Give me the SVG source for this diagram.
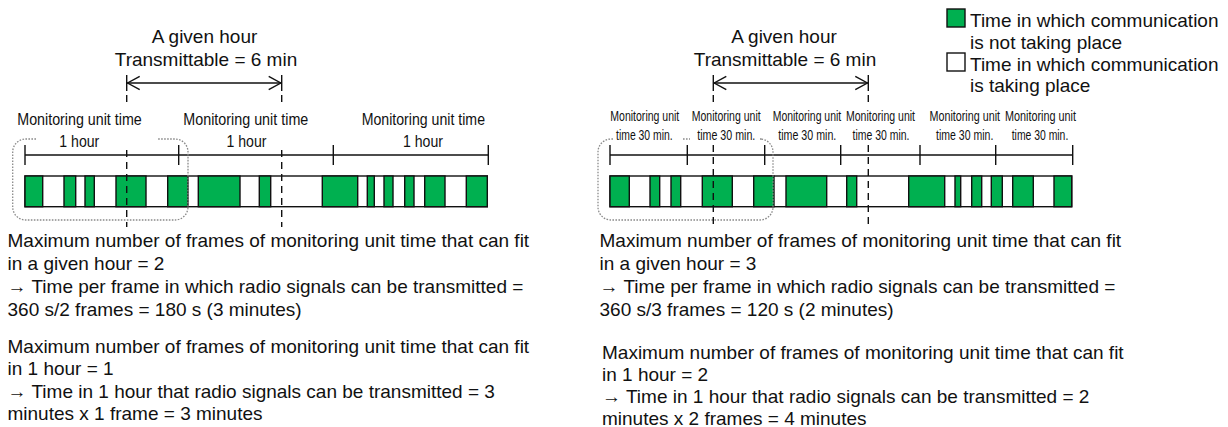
<svg xmlns="http://www.w3.org/2000/svg" width="1228" height="427" viewBox="0 0 1228 427">
<style>
.t{font-family:"Liberation Sans",Arial,sans-serif;font-size:19px;fill:#111}
.n{font-family:"Liberation Sans Narrow","Liberation Sans",Arial,sans-serif;fill:#111}
.n1{font-size:16.5px}
.n2{font-size:14px}
.ln{stroke:#111;stroke-width:1.4;fill:none}
.ds{stroke:#111;stroke-width:1.4;fill:none;stroke-dasharray:7 5}
.dot{stroke:#8a8a8a;stroke-width:1.3;fill:none;stroke-dasharray:1.6 1.4}
.g{fill:#00b050;stroke:#111;stroke-width:1.4}
.w{fill:#fff;stroke:#111;stroke-width:1.4}
</style>

<g id="legend">
<rect class="g" x="947" y="9" width="18" height="18"/>
<rect class="w" x="947" y="53" width="18" height="18"/>
<text class="t" x="970" y="26.5">Time in which communication</text>
<text class="t" x="970" y="48.5">is not taking place</text>
<text class="t" x="970" y="70.5">Time in which communication</text>
<text class="t" x="970" y="92">is taking place</text>
</g>

<!-- LEFT DIAGRAM -->
<g id="left-title">
<text class="t" x="204.5" y="43.3" text-anchor="middle">A given hour</text>
<text class="t" x="206" y="66" text-anchor="middle">Transmittable = 6 min</text>
</g>

<g id="left-labels">
<text class="n n1" x="17.3" y="125" textLength="124.4" lengthAdjust="spacingAndGlyphs">Monitoring unit time</text>
<text class="n n1" x="59.3" y="147" textLength="40" lengthAdjust="spacingAndGlyphs">1 hour</text>
<text class="n n1" x="183.3" y="125" textLength="125" lengthAdjust="spacingAndGlyphs">Monitoring unit time</text>
<text class="n n1" x="226.5" y="147" textLength="40" lengthAdjust="spacingAndGlyphs">1 hour</text>
<text class="n n1" x="361.7" y="125" textLength="123.3" lengthAdjust="spacingAndGlyphs">Monitoring unit time</text>
<text class="n n1" x="403" y="147" textLength="40" lengthAdjust="spacingAndGlyphs">1 hour</text>
</g>

<g id="left-timeline">
<line class="ln" x1="25" y1="155" x2="488.3" y2="155"/>
<line class="ln" x1="25" y1="145" x2="25" y2="165"/>
<line class="ln" x1="178.7" y1="145" x2="178.7" y2="165"/>
<line class="ln" x1="333.3" y1="145" x2="333.3" y2="165"/>
<line class="ln" x1="488.3" y1="145" x2="488.3" y2="165"/>
</g>

<g id="left-bar">
<rect class="w" x="25" y="176" width="462.3" height="30.7"/>
<rect class="g" x="25" y="176" width="17.7" height="30.7"/>
<rect class="g" x="64" y="176" width="11.7" height="30.7"/>
<rect class="g" x="85" y="176" width="9.3" height="30.7"/>
<rect class="g" x="116" y="176" width="30" height="30.7"/>
<rect class="g" x="167.7" y="176" width="20.3" height="30.7"/>
<rect class="g" x="198.3" y="176" width="41.7" height="30.7"/>
<rect class="g" x="259.3" y="176" width="11.4" height="30.7"/>
<rect class="g" x="322.3" y="176" width="35.4" height="30.7"/>
<rect class="g" x="367.3" y="176" width="7" height="30.7"/>
<rect class="g" x="384" y="176" width="9" height="30.7"/>
<rect class="g" x="404.7" y="176" width="9.3" height="30.7"/>
<rect class="g" x="424.7" y="176" width="20.3" height="30.7"/>
<rect class="g" x="466.3" y="176" width="21" height="30.7"/>
</g>

<g id="left-bracket">
<path class="dot" d="M36,139 H25.7 A13,13 0 0 0 12.7,152 V207 A13,13 0 0 0 25.7,220 H175 A13,13 0 0 0 188,207 V152 A13,13 0 0 0 175,139 H158"/>
</g>

<!-- RIGHT DIAGRAM -->
<g id="right-title">
<text class="t" x="784" y="43" text-anchor="middle">A given hour</text>
<text class="t" x="785" y="65.5" text-anchor="middle">Transmittable = 6 min</text>
</g>

<g id="right-labels">
<text class="n n2" x="610.3" y="120.7" textLength="69" lengthAdjust="spacingAndGlyphs">Monitoring unit</text>
<text class="n n2" x="616" y="140" textLength="56.7" lengthAdjust="spacingAndGlyphs">time 30 min.</text>
<text class="n n2" x="691.7" y="120.7" textLength="69" lengthAdjust="spacingAndGlyphs">Monitoring unit</text>
<text class="n n2" x="697.3" y="140" textLength="58" lengthAdjust="spacingAndGlyphs">time 30 min.</text>
<text class="n n2" x="772.7" y="120.7" textLength="68.5" lengthAdjust="spacingAndGlyphs">Monitoring unit</text>
<text class="n n2" x="778.3" y="140" textLength="58" lengthAdjust="spacingAndGlyphs">time 30 min.</text>
<text class="n n2" x="846" y="120.7" textLength="69" lengthAdjust="spacingAndGlyphs">Monitoring unit</text>
<text class="n n2" x="852.5" y="140" textLength="57" lengthAdjust="spacingAndGlyphs">time 30 min.</text>
<text class="n n2" x="929.5" y="120.7" textLength="70.5" lengthAdjust="spacingAndGlyphs">Monitoring unit</text>
<text class="n n2" x="936" y="140" textLength="57.3" lengthAdjust="spacingAndGlyphs">time 30 min.</text>
<text class="n n2" x="1005" y="120.7" textLength="71" lengthAdjust="spacingAndGlyphs">Monitoring unit</text>
<text class="n n2" x="1011.7" y="140" textLength="56.6" lengthAdjust="spacingAndGlyphs">time 30 min.</text>
</g>

<g id="right-timeline">
<line class="ln" x1="610" y1="155" x2="1072.7" y2="155"/>
<line class="ln" x1="610" y1="145" x2="610" y2="165"/>
<line class="ln" x1="687.3" y1="145" x2="687.3" y2="165"/>
<line class="ln" x1="764.7" y1="145" x2="764.7" y2="165"/>
<line class="ln" x1="840.7" y1="145" x2="840.7" y2="165"/>
<line class="ln" x1="920" y1="145" x2="920" y2="165"/>
<line class="ln" x1="995.7" y1="145" x2="995.7" y2="165"/>
<line class="ln" x1="1072.7" y1="145" x2="1072.7" y2="165"/>
</g>

<g id="right-bar">
<rect class="w" x="610" y="176" width="461.7" height="30.7"/>
<rect class="g" x="610" y="176" width="19.3" height="30.7"/>
<rect class="g" x="650" y="176" width="9.7" height="30.7"/>
<rect class="g" x="671" y="176" width="9.7" height="30.7"/>
<rect class="g" x="702.3" y="176" width="30" height="30.7"/>
<rect class="g" x="753.7" y="176" width="20.3" height="30.7"/>
<rect class="g" x="786" y="176" width="40.7" height="30.7"/>
<rect class="g" x="846.7" y="176" width="10" height="30.7"/>
<rect class="g" x="908.7" y="176" width="36" height="30.7"/>
<rect class="g" x="955" y="176" width="5.7" height="30.7"/>
<rect class="g" x="971.7" y="176" width="10" height="30.7"/>
<rect class="g" x="991.3" y="176" width="11" height="30.7"/>
<rect class="g" x="1012.7" y="176" width="20.6" height="30.7"/>
<rect class="g" x="1054" y="176" width="17.7" height="30.7"/>
</g>

<g id="right-bracket">
<path class="dot" d="M613,139 H611 A13,13 0 0 0 598,152 V207 A13,13 0 0 0 611,220 H760 A13,13 0 0 0 773,207 V152 A13,13 0 0 0 760,139 H762"/>
<path class="dot" d="M683,139 H690"/>
</g>

<g id="connectors">
<!-- left span arrow -->
<line class="ln" x1="126.7" y1="83" x2="281.7" y2="83"/>
<path class="ln" d="M139.7,76.3 L127.6,83 L139.7,89.7"/>
<path class="ln" d="M268.7,76.3 L280.8,83 L268.7,89.7"/>
<line class="ln" x1="126.7" y1="75" x2="126.7" y2="91"/>
<line class="ln" x1="281.7" y1="75" x2="281.7" y2="91"/>
<line class="ds" x1="126.7" y1="95" x2="126.7" y2="103"/>
<line class="ds" x1="126.7" y1="150" x2="126.7" y2="227"/>
<line class="ds" x1="281.7" y1="95" x2="281.7" y2="103"/>
<line class="ds" x1="281.7" y1="150" x2="281.7" y2="227"/>
<!-- right span arrow -->
<line class="ln" x1="713.3" y1="83" x2="868.3" y2="83"/>
<path class="ln" d="M726.3,76.3 L714.2,83 L726.3,89.7"/>
<path class="ln" d="M855.3,76.3 L867.4,83 L855.3,89.7"/>
<line class="ln" x1="713.3" y1="75" x2="713.3" y2="91"/>
<line class="ln" x1="868.3" y1="75" x2="868.3" y2="91"/>
<line class="ds" x1="713.3" y1="95" x2="713.3" y2="102"/>
<line class="ds" x1="713.3" y1="145" x2="713.3" y2="226"/>
<line class="ds" x1="868.3" y1="95" x2="868.3" y2="102"/>
<line class="ds" x1="868.3" y1="145" x2="868.3" y2="226"/>
</g>

<g id="left-notes">
<text class="t" x="7.5" y="247">Maximum number of frames of monitoring unit time that can fit</text>
<text class="t" x="7.5" y="270">in a given hour = 2</text>
<text class="t" x="7.5" y="293">→ Time per frame in which radio signals can be transmitted =</text>
<text class="t" x="7.5" y="316">360 s/2 frames = 180 s (3 minutes)</text>
<text class="t" x="7.5" y="352.7">Maximum number of frames of monitoring unit time that can fit</text>
<text class="t" x="7.5" y="375.2">in 1 hour = 1</text>
<text class="t" x="7.5" y="397.7">→ Time in 1 hour that radio signals can be transmitted = 3</text>
<text class="t" x="7.5" y="420.2">minutes x 1 frame = 3 minutes</text>
</g>

<g id="right-notes">
<text class="t" x="599.5" y="247">Maximum number of frames of monitoring unit time that can fit</text>
<text class="t" x="599.5" y="270">in a given hour = 3</text>
<text class="t" x="599.5" y="293">→ Time per frame in which radio signals can be transmitted =</text>
<text class="t" x="599.5" y="316">360 s/3 frames = 120 s (2 minutes)</text>
<text class="t" x="602" y="359">Maximum number of frames of monitoring unit time that can fit</text>
<text class="t" x="602" y="381">in 1 hour = 2</text>
<text class="t" x="602" y="403">→ Time in 1 hour that radio signals can be transmitted = 2</text>
<text class="t" x="602" y="425">minutes x 2 frames = 4 minutes</text>
</g>
</svg>
